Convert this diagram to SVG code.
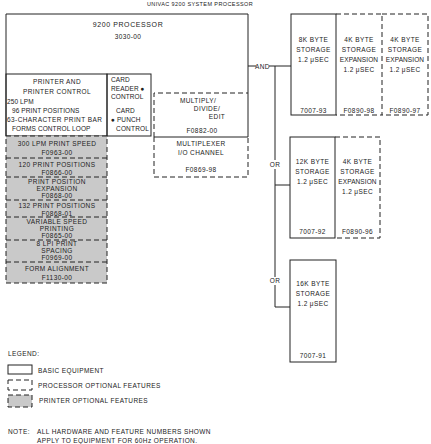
<svg xmlns="http://www.w3.org/2000/svg" width="431" height="444" viewBox="0 0 431 444">
<style>
text{font-family:"Liberation Sans",Arial,sans-serif;font-size:6.5px;fill:#222;letter-spacing:0.4px}
.c{text-anchor:middle}
.n{letter-spacing:0.1px}
.s{fill:none;stroke:#222;stroke-width:1}
.d{fill:none;stroke:#222;stroke-width:1;stroke-dasharray:5,3}
.g{fill:#c9c9c9;stroke:#222;stroke-width:1;stroke-dasharray:5,3}
.t{font-size:7px;letter-spacing:0.6px}
</style>
<rect width="431" height="444" fill="#fff"/>
<text x="200" y="5.5" class="c" style="font-size:5.5px">UNIVAC 9200 SYSTEM PROCESSOR</text>

<g id="processor">
<path class="s" d="M6,136 V14 H248 V137"/>
<text x="128" y="27" class="c t">9200 PROCESSOR</text>
<text x="128" y="39" class="c">3030-00</text>
</g>
<g id="printer">
<rect class="s" x="6" y="74" width="101" height="62"/>
<text x="57" y="84" class="c">PRINTER AND</text>
<text x="57" y="94" class="c">PRINTER CONTROL</text>
<text x="7" y="104" class="n">250 LPM</text>
<text x="12" y="113" class="n">96 PRINT POSITIONS</text>
<text x="7" y="122" class="n" textLength="95">63-CHARACTER PRINT BAR</text>
<text x="12" y="131" class="n">FORMS CONTROL LOOP</text>
</g>
<g id="card">
<rect class="s" x="107" y="74" width="44" height="62"/>
<text x="111" y="82" class="n">CARD</text>
<text x="111" y="91" class="n">READER ●</text>
<text x="111" y="99" class="n">CONTROL</text>
<text x="116" y="113" class="n">CARD</text>
<text x="111" y="122" class="n">● PUNCH</text>
<text x="116" y="131" class="n" textLength="33">CONTROL</text>
</g>
<g id="multiply">
<path class="d" d="M154,137 V93 H248"/>
<text x="198" y="103" class="c">MULTIPLY/</text>
<text x="207" y="111" class="c">DIVIDE/</text>
<text x="217" y="119" class="c">EDIT</text>
<text x="202" y="133" class="c">F0882-00</text>
</g>
<g id="multiplexer">
<path class="s" d="M154,137 H248"/>
<path class="d" d="M154,137 V177 H248 V137"/>
<text x="201" y="146" class="c">MULTIPLEXER</text>
<text x="201" y="155" class="c">I/O CHANNEL</text>
<text x="201" y="172" class="c">F0869-98</text>
</g>

<g id="printer-options">
<rect class="g" x="6" y="136" width="101" height="147"/>
<path class="d" d="M6,158 H107 M6,177 H107 M6,200 H107 M6,217 H107 M6,240 H107 M6,262 H107"/>
<text x="57" y="146" class="c">300 LPM PRINT SPEED</text>
<text x="57" y="155" class="c">F0963-00</text>
<text x="57" y="167" class="c">120 PRINT POSITIONS</text>
<text x="57" y="175" class="c">F0866-00</text>
<text x="57" y="184" class="c">PRINT POSITION</text>
<text x="57" y="191" class="c">EXPANSION</text>
<text x="57" y="198" class="c">F0868-00</text>
<text x="57" y="208" class="c">132 PRINT POSITIONS</text>
<text x="57" y="215.5" class="c">F0868-01</text>
<text x="57" y="223.5" class="c">VARIABLE SPEED</text>
<text x="57" y="230.5" class="c">PRINTING</text>
<text x="57" y="237.5" class="c">F0865-00</text>
<text x="57" y="246" class="c">8 LPI PRINT</text>
<text x="57" y="253" class="c">SPACING</text>
<text x="57" y="260" class="c">F0969-00</text>
<text x="57" y="271" class="c">FORM ALIGNMENT</text>
<text x="57" y="280" class="c">F1130-00</text>
</g>

<g id="connectors">
<path class="s" d="M248,66 H256 M269,66 H291"/>
<path class="s" d="M275,66 V160 M275,169 V277 M275,285 V307 H290 M275,185 H290"/>
<text x="262.5" y="68.5" class="c">AND</text>
<text x="275" y="167" class="c">OR</text>
<text x="275" y="283" class="c">OR</text>
</g>

<g id="storage8k">
<rect class="s" x="291" y="14" width="45" height="101"/>
<text x="313.5" y="42" class="c">8K BYTE</text>
<text x="313.5" y="52" class="c">STORAGE</text>
<text x="313.5" y="62" class="c">1.2 μSEC</text>
<text x="313.5" y="113" class="c">7007-93</text>
</g>
<g id="exp98">
<path class="d" d="M336,14 H382 V115 H336"/>
<text x="359" y="42" class="c">4K BYTE</text>
<text x="359" y="52" class="c">STORAGE</text>
<text x="359" y="62" class="c n">EXPANSION</text>
<text x="359" y="72" class="c">1.2 μSEC</text>
<text x="359" y="113" class="c">F0890-98</text>
</g>
<g id="exp97">
<path class="d" d="M382,14 H428 V115 H382"/>
<text x="405" y="42" class="c">4K BYTE</text>
<text x="405" y="52" class="c">STORAGE</text>
<text x="405" y="62" class="c n">EXPANSION</text>
<text x="405" y="72" class="c">1.2 μSEC</text>
<text x="405" y="113" class="c">F0890-97</text>
</g>
<g id="storage12k">
<rect class="s" x="290" y="137" width="45" height="101"/>
<text x="312.5" y="164" class="c">12K BYTE</text>
<text x="312.5" y="174" class="c">STORAGE</text>
<text x="312.5" y="184" class="c">1.2 μSEC</text>
<text x="312.5" y="234" class="c">7007-92</text>
</g>
<g id="exp96">
<path class="d" d="M335,137 H380 V238 H335"/>
<text x="357.5" y="164" class="c">4K BYTE</text>
<text x="357.5" y="174" class="c">STORAGE</text>
<text x="357.5" y="184" class="c n">EXPANSION</text>
<text x="357.5" y="194" class="c">1.2 μSEC</text>
<text x="357.5" y="234" class="c">F0890-96</text>
</g>
<g id="storage16k">
<rect class="s" x="290" y="260" width="46" height="102"/>
<text x="313" y="286" class="c">16K BYTE</text>
<text x="313" y="296" class="c">STORAGE</text>
<text x="313" y="306" class="c">1.2 μSEC</text>
<text x="313" y="358" class="c">7007-91</text>
</g>

<g id="legend">
<text x="8" y="356">LEGEND:</text>
<rect class="s" x="8" y="365" width="24" height="9"/>
<text x="38" y="373">BASIC EQUIPMENT</text>
<rect class="d" x="8" y="380" width="24" height="10" stroke-dasharray="3,2"/>
<text x="38" y="388">PROCESSOR OPTIONAL FEATURES</text>
<rect class="g" x="8" y="395" width="24" height="12" stroke-dasharray="3,2"/>
<text x="39" y="403">PRINTER OPTIONAL FEATURES</text>
<text x="8" y="434">NOTE:</text>
<text x="37" y="434">ALL HARDWARE AND FEATURE NUMBERS SHOWN</text>
<text x="37" y="443">APPLY TO EQUIPMENT FOR 60Hz OPERATION.</text>
</g>
</svg>
